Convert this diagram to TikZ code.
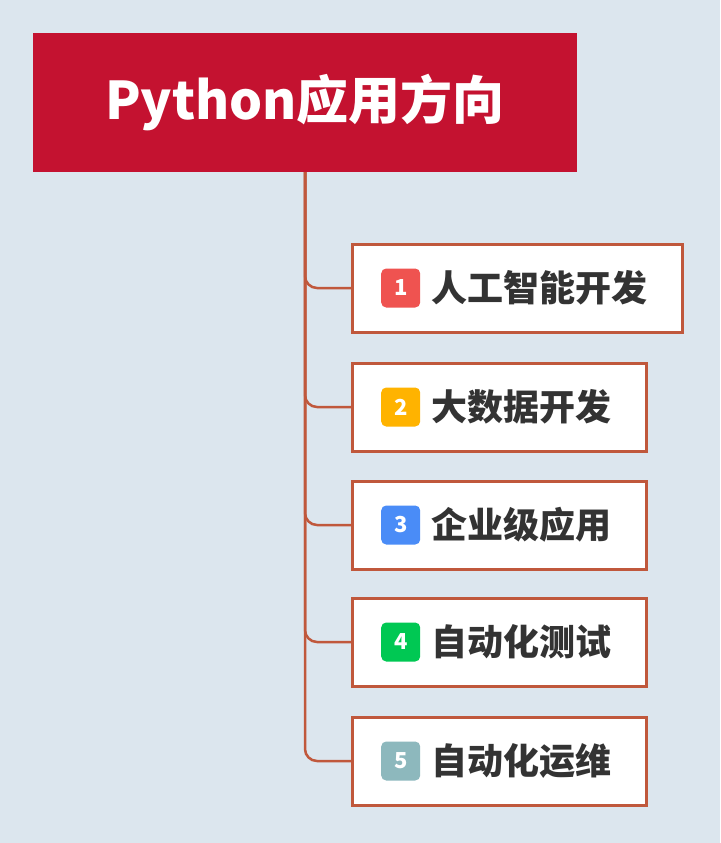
\documentclass[tikz,border=0pt]{standalone}
\usepackage{fontspec}
\usepackage{tikz}
\usetikzlibrary{positioning,calc}
\newfontfamily\cjk{Noto Sans CJK SC}

\definecolor{bgcol}{HTML}{DCE6EE}
\definecolor{titlered}{HTML}{C41230}
\definecolor{linecol}{HTML}{C0583C}
\definecolor{textcol}{HTML}{333333}
\definecolor{badgeA}{HTML}{EF5350}
\definecolor{badgeB}{HTML}{FFB300}
\definecolor{badgeC}{HTML}{4A8CF7}
\definecolor{badgeD}{HTML}{00C853}
\definecolor{badgeE}{HTML}{8DB8BD}

\begin{document}
\begin{tikzpicture}[
    x=1pt, y=-1pt,
    title/.style={rectangle, fill=titlered, minimum width=544pt, minimum height=139pt, inner sep=0pt, text=white, font=\cjk\bfseries\fontsize{52}{60}\selectfont},
    branchbox/.style={rectangle, draw=linecol, line width=3pt, fill=white, minimum height=88pt, inner xsep=35pt, inner ysep=0pt, text=textcol, font=\cjk\bfseries\fontsize{36}{42}\selectfont},
    badge/.style={rectangle, rounded corners=5pt, minimum size=39pt, inner sep=0pt, text=white, font=\cjk\bfseries\fontsize{22}{26}\selectfont},
    link/.style={draw=linecol, line width=2.5pt, rounded corners=12pt}
]

% Background
\useasboundingbox[fill=bgcol] (0,0) rectangle (720,843);

% Root
\node[title] (root) at (305,102.5) {Python应用方向};

% Branches
\node[branchbox, anchor=west] (ai) at (351,288) {\hspace*{44pt}人工智能开发};
\node[branchbox, anchor=west] (bigdata) at (351,407) {\hspace*{44pt}大数据开发};
\node[branchbox, anchor=west] (enterprise) at (351,525) {\hspace*{44pt}企业级应用};
\node[branchbox, anchor=west] (autotest) at (351,642) {\hspace*{44pt}自动化测试};
\node[branchbox, anchor=west] (autoops) at (351,761) {\hspace*{44pt}自动化运维};

% Badges
\node[badge, fill=badgeA, anchor=west] (n1) at ([xshift=30pt]ai.west) {1};
\node[badge, fill=badgeB, anchor=west] (n2) at ([xshift=30pt]bigdata.west) {2};
\node[badge, fill=badgeC, anchor=west] (n3) at ([xshift=30pt]enterprise.west) {3};
\node[badge, fill=badgeD, anchor=west] (n4) at ([xshift=30pt]autotest.west) {4};
\node[badge, fill=badgeE, anchor=west] (n5) at ([xshift=30pt]autoops.west) {5};

% Links
\foreach \b in {ai,bigdata,enterprise,autotest,autoops}
    \draw[link] (root.south) |- (\b.west);

\end{tikzpicture}
\end{document}
